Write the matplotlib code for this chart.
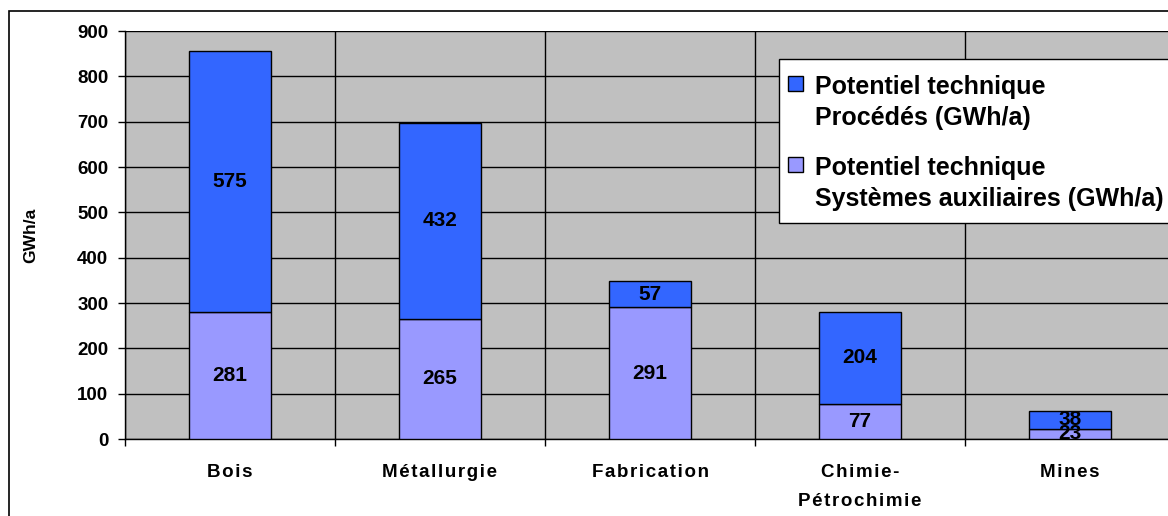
import matplotlib.pyplot as plt
from matplotlib.patches import Rectangle
import numpy as np

plt.rcParams['font.family'] = ['Liberation Sans', 'DejaVu Sans']

# Potentiel technique par branche (GWh/a)
branches = ["Bois", "Métallurgie", "Fabrication", "Chimie-\nPétrochimie", "Mines"]
auxiliaires = [281, 265, 291, 77, 23]
procedes = [575, 432, 57, 204, 38]
yticks = list(range(0, 901, 100))

label_proc = ["Potentiel technique", "Procédés (GWh/a)"]
label_aux = ["Potentiel technique", "Systèmes auxiliaires (GWh/a)"]

col_proc = "#3366FF"
col_aux = "#9999FF"

W, H = 1168, 516


def spaced(txt):
    # letter-spaced labels
    return "\n".join("\u200a".join(line) for line in txt.split("\n"))


def fx(px):
    return px / W


def fy(py):
    return 1 - py / H


fig = plt.figure(figsize=(W / 100, H / 100), dpi=100)
ax = fig.add_axes([fx(125), fy(439), 1050 / W, 408 / H])
ax.set_facecolor("#C0C0C0")

x = np.arange(len(branches))
w = 0.395
ax.bar(x, auxiliaires, w, color=col_aux, edgecolor="black", linewidth=1, zorder=3)
ax.bar(x, procedes, w, bottom=auxiliaires, color=col_proc, edgecolor="black",
       linewidth=1, zorder=3)

# values inside the segments
for i in range(len(branches)):
    ax.text(x[i], auxiliaires[i] / 2, str(auxiliaires[i]), ha="center",
            va="center", fontsize=15, fontweight="bold", zorder=4)
    ax.text(x[i], auxiliaires[i] + procedes[i] / 2, str(procedes[i]),
            ha="center", va="center", fontsize=15, fontweight="bold", zorder=4)

ax.set_xlim(-0.5, len(branches) - 0.5)
ax.set_ylim(0, 900)
ax.set_yticks(yticks)
ax.set_yticklabels([str(v) for v in yticks], fontsize=13.5, fontweight="bold")
ax.tick_params(axis="y", length=5, width=1, pad=7)

ax.set_xticks(x)
ax.set_xticklabels([spaced(b) for b in branches], fontsize=13.5,
                   fontweight="bold", linespacing=1.95, va="top")
ax.tick_params(axis="x", length=0, pad=18)
ax.set_xticks(np.arange(len(branches)) - 0.5, minor=True)
ax.tick_params(axis="x", which="minor", length=5, width=1)

ax.grid(axis="y", color="black", linewidth=1, zorder=1)
ax.grid(axis="x", which="minor", color="black", linewidth=1, zorder=1)
ax.set_axisbelow(True)

for s in ["top", "right"]:
    ax.spines[s].set_visible(False)
ax.spines["left"].set_linewidth(1)
ax.spines["bottom"].set_linewidth(1)

ax.set_ylabel("GWh/a", fontsize=12.5, fontweight="bold")
ax.yaxis.set_label_coords((38 - 125) / 1050, 0.5)

# legend box, running off the right edge
fig.patches.append(Rectangle((fx(779), fy(223)), 0.5, (223 - 59) / H,
                             transform=fig.transFigure, facecolor="white",
                             edgecolor="black", linewidth=1, zorder=5))
entries = [(col_proc, label_proc, 76), (col_aux, label_aux, 157)]
for col, lines, top in entries:
    fig.patches.append(Rectangle((fx(788), fy(top + 15)), 15 / W, 15 / H,
                                 transform=fig.transFigure, facecolor=col,
                                 edgecolor="black", linewidth=1, zorder=6))
    for k, line in enumerate(lines):
        fig.text(fx(815), fy(top + 18 + 31 * k), line, fontsize=18,
                 fontweight="bold", va="baseline", ha="left", zorder=7)

# outer chart border
fig.patches.append(Rectangle((fx(9), -0.1), 1.2, fy(11) + 0.1,
                             transform=fig.transFigure, fill=False,
                             edgecolor="black", linewidth=1.2, zorder=8))

fig.savefig("out.png", dpi=100)
